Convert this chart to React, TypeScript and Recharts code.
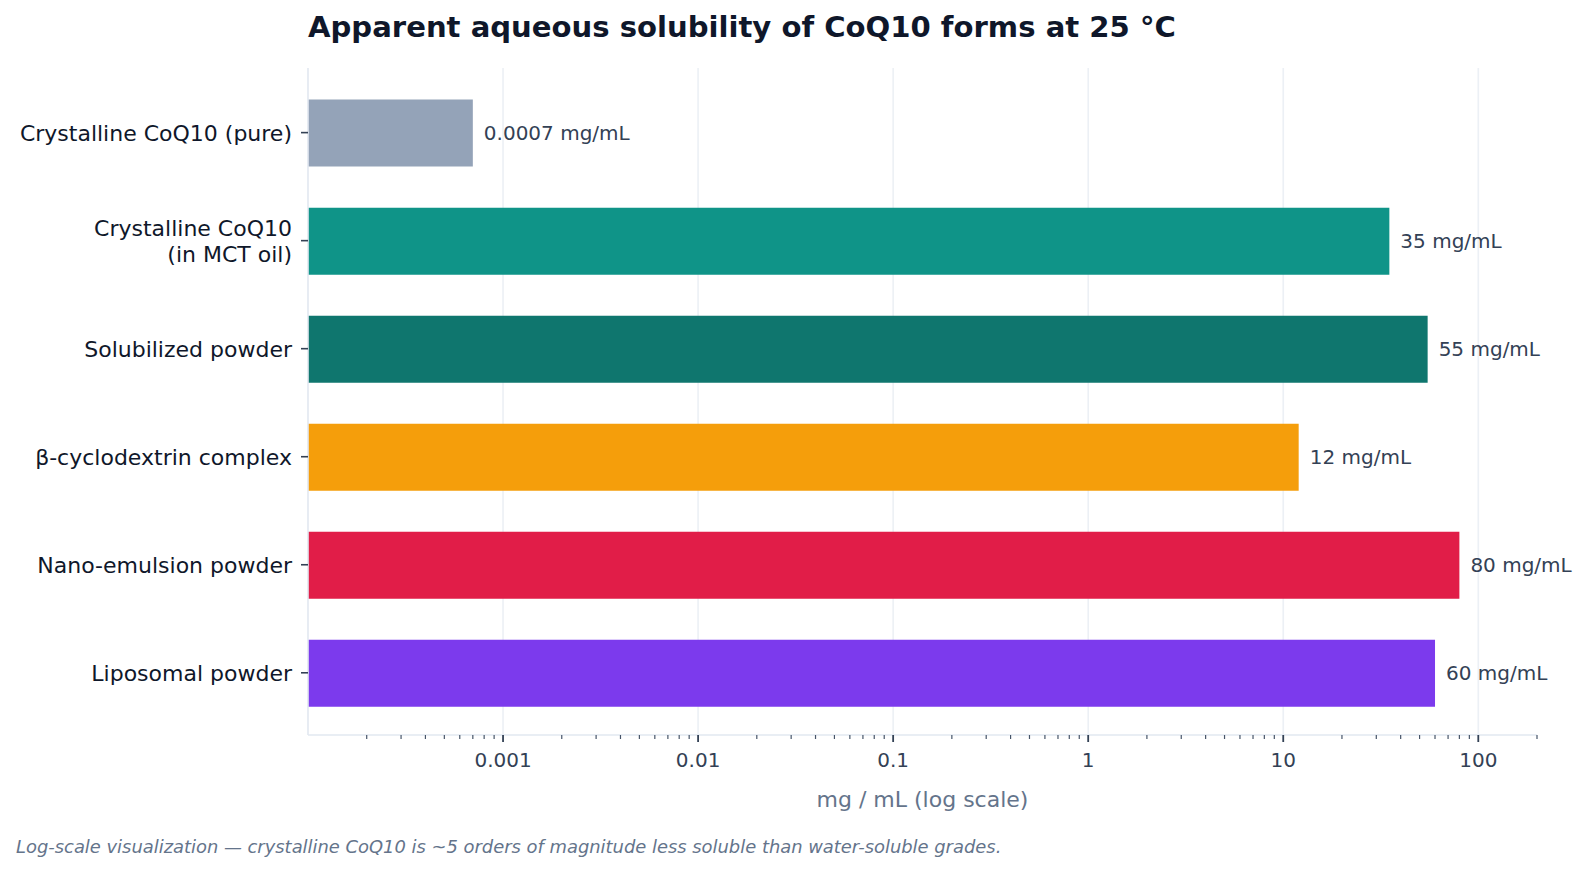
import React from 'react';
import { BarChart, Bar, XAxis, YAxis, CartesianGrid, LabelList, Cell } from 'recharts';

const forms = [
  'Crystalline CoQ10 (pure)',
  'Crystalline CoQ10\n(in MCT oil)',
  'Solubilized powder',
  'β-cyclodextrin complex',
  'Nano-emulsion powder',
  'Liposomal powder',
];
const solubility = [0.0007, 35, 55, 12, 80, 60];
const barColors = ['#94a3b8', '#0f9488', '#0f766e', '#f59e0b', '#e11d48', '#7c3aed'];

const majorTicks = [0.001, 0.01, 0.1, 1, 10, 100];
const minorTicks = [
  0.0002, 0.0003, 0.0004, 0.0005, 0.0006, 0.0007, 0.0008, 0.0009,
  0.002, 0.003, 0.004, 0.005, 0.006, 0.007, 0.008, 0.009,
  0.02, 0.03, 0.04, 0.05, 0.06, 0.07, 0.08, 0.09,
  0.2, 0.3, 0.4, 0.5, 0.6, 0.7, 0.8, 0.9,
  2, 3, 4, 5, 6, 7, 8, 9,
  20, 30, 40, 50, 60, 70, 80, 90,
  200,
];

const rows = forms.map((form, i) => ({ form, value: solubility[i] }));

const FONT = '"DejaVu Sans", sans-serif';

const XTick = (props: any) => {
  const { x, y, payload } = props;
  const isMajor = majorTicks.includes(payload.value);
  return (
    <g>
      <line
        x1={x}
        x2={x}
        y1={y}
        y2={y + (isMajor ? 7 : 4)}
        stroke={isMajor ? '#334155' : '#475569'}
        strokeWidth={isMajor ? 1.8 : 1.2}
      />
      {isMajor && (
        <text x={x} y={y + 32} textAnchor="middle" fontSize={20} fill="#334155" fontFamily={FONT}>
          {payload.value}
        </text>
      )}
    </g>
  );
};

const YTick = (props: any) => {
  const { x, y, payload } = props;
  const lines = String(payload.value).split('\n');
  const first = 8.4 - ((lines.length - 1) * 26.6) / 2;
  return (
    <text x={x} y={y} textAnchor="end" fontSize={22} fill="#0f172a" fontFamily={FONT}>
      {lines.map((l, i) => (
        <tspan key={i} x={x} dy={i === 0 ? first : 26.6}>
          {l}
        </tspan>
      ))}
    </text>
  );
};

// grid only on the decades, not on the minor ticks
const decadeLines = ({ xAxis }: any) => {
  const s = xAxis?.scale;
  if (typeof s === 'function') return majorTicks.map((t) => s(t));
  if (s && typeof s.map === 'function') return majorTicks.map((t) => s.map(t));
  const ticks = xAxis?.ticks ?? [];
  return ticks.filter((t: any) => majorTicks.includes(t.value)).map((t: any) => t.coordinate);
};

export default function App() {
  return (
    <div
      style={{
        position: 'absolute',
        left: 0,
        top: 0,
        width: 1589,
        height: 874,
        background: '#ffffff',
        fontFamily: FONT,
      }}
    >
      <div
        style={{
          position: 'absolute',
          left: 308,
          top: 12.7,
          fontSize: 29.1,
          fontWeight: 'bold',
          lineHeight: 1,
          color: '#0f172a',
          whiteSpace: 'nowrap',
        }}
      >
        Apparent aqueous solubility of CoQ10 forms at 25 °C
      </div>

      <BarChart
        layout="vertical"
        width={1589}
        height={874}
        data={rows}
        margin={{ top: 68, right: 52, bottom: 64, left: 0 }}
      >
        <CartesianGrid
          horizontal={false}
          stroke="#e2e8f0"
          strokeOpacity={0.65}
          strokeWidth={1.6}
          verticalCoordinatesGenerator={decadeLines}
        />
        <XAxis
          type="number"
          scale="log"
          domain={[0.0001, 200]}
          allowDataOverflow
          ticks={[...minorTicks, ...majorTicks]}
          interval={0}
          tick={<XTick />}
          tickLine={false}
          tickSize={0}
          tickMargin={0}
          axisLine={{ stroke: '#e2e8f0', strokeWidth: 1.6 }}
          height={75}
          label={{
            value: 'mg / mL (log scale)',
            position: 'insideBottom',
            offset: 3,
            fill: '#64748b',
            fontSize: 22,
            fontFamily: FONT,
          }}
        />
        <YAxis
          type="category"
          dataKey="form"
          width={308}
          padding={{ top: 10.6, bottom: 8.2 }}
          tick={<YTick />}
          tickSize={7}
          tickMargin={9}
          tickLine={{ stroke: '#334155', strokeWidth: 1.6 }}
          axisLine={{ stroke: '#e2e8f0', strokeWidth: 1.6 }}
          interval={0}
        />
        <Bar dataKey="value" barSize={67} isAnimationActive={false}>
          {rows.map((r, i) => (
            <Cell key={r.form} fill={barColors[i]} />
          ))}
          <LabelList
            dataKey="value"
            position="right"
            offset={11}
            fontSize={20}
            fill="#334155"
            fontFamily={FONT}
            formatter={(v: any) => `${v} mg/mL`}
          />
        </Bar>
      </BarChart>

      <div
        style={{
          position: 'absolute',
          left: 16,
          top: 837.9,
          fontSize: 17.9,
          fontStyle: 'italic',
          lineHeight: 1,
          color: '#64748b',
          whiteSpace: 'nowrap',
        }}
      >
        Log-scale visualization — crystalline CoQ10 is ~5 orders of magnitude less soluble than water-soluble grades.
      </div>
    </div>
  );
}
